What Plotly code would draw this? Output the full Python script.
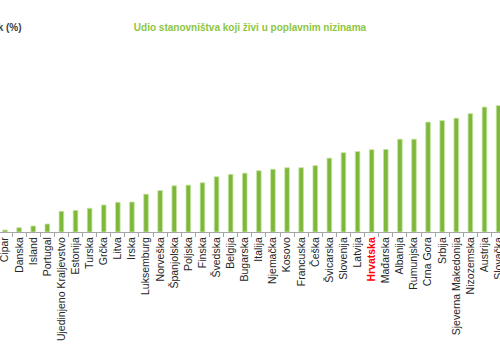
import plotly.graph_objects as go

# Share of population living in floodplains, by country (%)
countries = [
    "Cipar", "Danska", "Island", "Portugal", "Ujedinjeno Kraljevstvo", "Estonija",
    "Turska", "Grčka", "Litva", "Irska", "Luksemburg", "Norveška", "Španjolska",
    "Poljska", "Finska", "Švedska", "Belgija", "Bugarska", "Italija", "Njemačka",
    "Kosovo", "Francuska", "Češka", "Švicarska", "Slovenija", "Latvija", "Hrvatska",
    "Mađarska", "Albanija", "Rumunjska", "Crna Gora", "Srbija", "Sjeverna Makedonija",
    "Nizozemska", "Austrija", "Slovačka",
]
shares = [
    0.33, 0.72, 1.0, 1.33, 3.45, 3.6,
    3.95, 4.5, 4.95, 5.0, 6.3, 6.9, 7.7,
    7.8, 8.2, 9.2, 9.6, 9.8, 10.2, 10.45,
    10.7, 10.7, 11.05, 12.3, 13.2, 13.4, 13.7,
    13.75, 15.45, 15.45, 18.3, 18.55, 18.95,
    19.7, 20.8, 21.05,
]
highlight = "Hrvatska"

tick_text = [
    f"<b><span style='color:#FF0000'>{c}</span></b>" if c == highlight else c
    for c in countries
]

fig = go.Figure(
    go.Bar(
        x=countries,
        y=shares,
        width=0.33,
        marker=dict(color="#7DB83A", line=dict(color="#C9E4A6", width=0.8)),
    )
)

fig.update_layout(
    width=500,
    height=349,
    margin=dict(l=0, r=0, t=50, b=117),
    paper_bgcolor="white",
    plot_bgcolor="white",
    showlegend=False,
    font=dict(family="Liberation Sans, Arial, sans-serif", color="#222222"),
    title=dict(
        text="<b>Udio stanovništva koji živi u poplavnim nizinama</b>",
        x=0.5,
        xanchor="center",
        y=1 - 27 / 349,
        yanchor="middle",
        font=dict(size=10, color="#8CC63F"),
    ),
    annotations=[
        dict(
            text="<b>Postotak (%)</b>",
            xref="paper",
            yref="paper",
            x=24 / 500,
            xanchor="right",
            y=(349 - 27 - 117) / 182,
            yanchor="middle",
            showarrow=False,
            font=dict(size=10, color="#404040"),
        )
    ],
)

fig.update_xaxes(
    type="category",
    range=[-0.355, 35.1],
    automargin=False,
    tickmode="array",
    tickvals=countries,
    ticktext=tick_text,
    tickangle=-90,
    tickfont=dict(size=10.5, color="#262626"),
    ticks="outside",
    tickson="boundaries",
    ticklen=4,
    tickcolor="#A6A6A6",
    showline=True,
    linecolor="#A6A6A6",
    linewidth=1,
    showgrid=False,
)
fig.update_yaxes(
    range=[0, 30.3],
    automargin=False,
    showticklabels=False,
    showgrid=False,
    zeroline=False,
    showline=False,
    ticks="",
)

fig.write_html("out.html")
